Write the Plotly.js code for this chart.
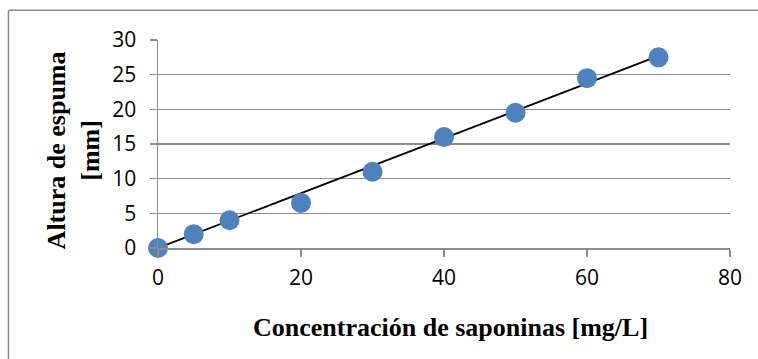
<!DOCTYPE html>
<html>
<head>
<meta charset="utf-8">
<script src="https://cdn.plot.ly/plotly-3.0.1.min.js"></script>
<style>
  html, body { margin: 0; padding: 0; background: #fff; }
  #chart { width: 758px; height: 359px; }
</style>
</head>
<body>
<div id="chart"></div>
<script>
// Foam height versus saponin concentration
const concentracion = [0, 5, 10, 20, 30, 40, 50, 60, 70];      // mg/L
const alturaEspuma  = [0, 2, 4, 6.5, 11, 16, 19.5, 24.5, 27.5]; // mm

// Linear trend line endpoints
const tendenciaX = [0, 70];
const tendenciaY = [0, 27.7];

const xTicks = [0, 20, 40, 60, 80];
const yTicks = [0, 5, 10, 15, 20, 25, 30];

const gridColor = '#8c8c8c';
const tickFont = { family: 'Open Sans, sans-serif', size: 21, color: '#000' };
const titleFont = { family: 'Liberation Serif, Times New Roman, serif', size: 26, color: '#000' };

const puntos = {
  x: concentracion,
  y: alturaEspuma,
  type: 'scatter',
  mode: 'markers',
  marker: { color: '#4F81BD', size: 20 },
  hoverinfo: 'x+y',
  cliponaxis: false
};

const tendencia = {
  x: tendenciaX,
  y: tendenciaY,
  type: 'scatter',
  mode: 'lines',
  line: { color: '#000', width: 1.8 },
  hoverinfo: 'skip',
  cliponaxis: false
};

const layout = {
  width: 758,
  height: 359,
  margin: { l: 158, r: 28, t: 40, b: 111 },
  paper_bgcolor: '#fff',
  plot_bgcolor: '#fff',
  showlegend: false,
  xaxis: {
    range: [0, 80],
    tickvals: xTicks,
    ticktext: xTicks.map(String),
    showgrid: false,
    zeroline: false,
    showline: true,
    linecolor: gridColor,
    linewidth: 1.5,
    ticks: 'outside',
    ticklen: 7,
    tickwidth: 1.5,
    tickcolor: gridColor,
    tickfont: tickFont,
    ticklabelstandoff: 3,
    fixedrange: true
  },
  yaxis: {
    range: [0, 30],
    tickvals: yTicks,
    ticktext: yTicks.map(String),
    showgrid: true,
    gridcolor: gridColor,
    gridwidth: 1.5,
    zeroline: false,
    showline: true,
    linecolor: gridColor,
    linewidth: 1.5,
    ticks: 'outside',
    ticklen: 7,
    tickwidth: 1.5,
    tickcolor: gridColor,
    tickfont: tickFont,
    ticklabelstandoff: 9,
    fixedrange: true
  },
  shapes: [
    // chart frame (left and top edges)
    { type: 'line', xref: 'paper', yref: 'paper', x0: -0.2614, x1: -0.2614, y0: -1, y1: 1.1428,
      line: { color: '#8c8c8c', width: 1.5 } },
    { type: 'line', xref: 'paper', yref: 'paper', x0: -0.2614, x1: 2, y0: 1.1428, y1: 1.1428,
      line: { color: '#8c8c8c', width: 1.5 } }
  ],
  annotations: [
    { text: '<b>Altura de espuma</b><br><b>[mm]</b>', xref: 'paper', yref: 'paper',
      x: -0.148, y: 0.471, xanchor: 'center', yanchor: 'middle', textangle: -90,
      showarrow: false, font: titleFont, align: 'center' },
    { text: '<b>Concentración de saponinas [mg/L]</b>', xref: 'paper', yref: 'paper',
      x: 0.511, y: -0.38, xanchor: 'center', yanchor: 'middle',
      showarrow: false, font: titleFont }
  ]
};

Plotly.newPlot('chart', [tendencia, puntos], layout, { displayModeBar: false, staticPlot: true });
</script>
</body>
</html>
